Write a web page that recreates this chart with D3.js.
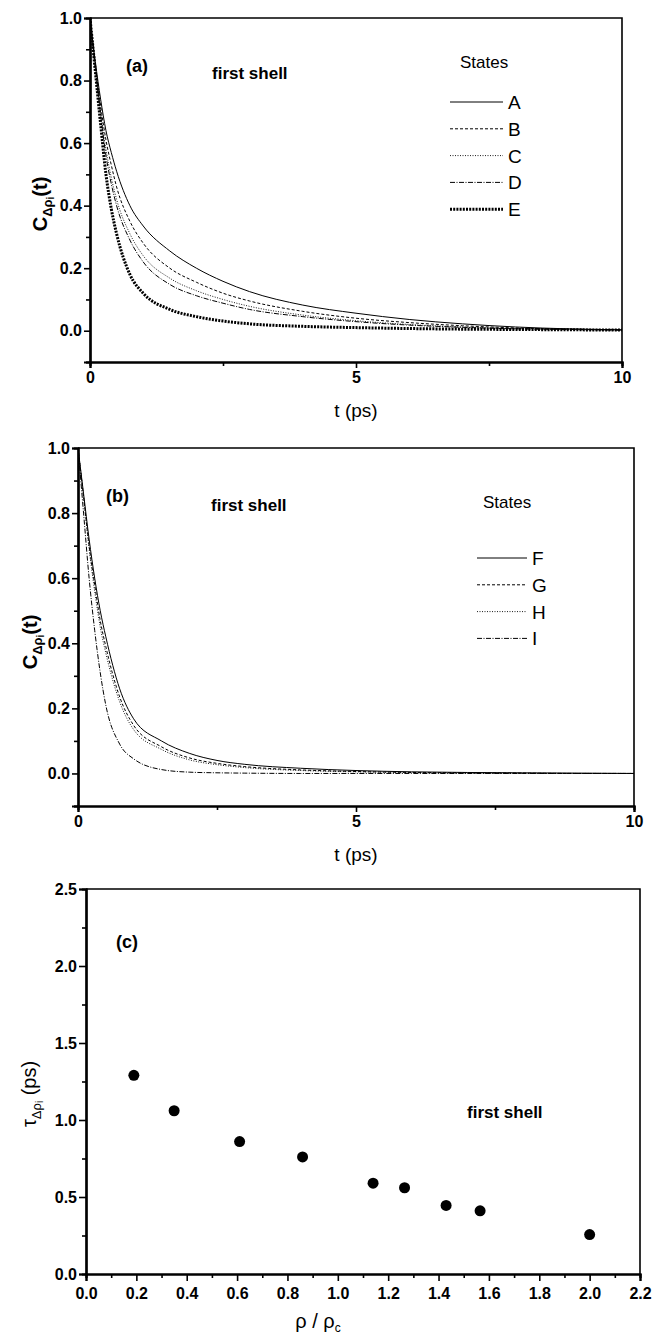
<!DOCTYPE html>
<html>
<head>
<meta charset="utf-8">
<script src="https://cdn.jsdelivr.net/npm/d3@7"></script>
<style>
    body { margin: 0; background: #fff; }
    svg { display: block; font-family: "Liberation Sans", Arial, sans-serif; }
</style>
</head>
<body>
<svg width="652" height="1338"></svg>
<script>
// time grid (ps) shared by all correlation curves
const times = [0, 0.1, 0.2, 0.3, 0.4, 0.5, 0.75, 1, 1.5, 2, 2.5, 3, 4, 5, 6, 7, 8, 9, 10];

// panel (a), states A-E
const statesA = ["A", "B", "C", "D", "E"];
const corrA = [1.0, 0.86, 0.74, 0.64, 0.57, 0.51, 0.40, 0.335, 0.255, 0.20, 0.158, 0.125, 0.082, 0.056, 0.036, 0.022, 0.012, 0.006, 0.003];
const corrB = [1.0, 0.85, 0.72, 0.61, 0.53, 0.46, 0.35, 0.28, 0.20, 0.155, 0.12, 0.095, 0.062, 0.04, 0.026, 0.016, 0.009, 0.005, 0.003];
const corrC = [1.0, 0.84, 0.70, 0.58, 0.49, 0.42, 0.31, 0.24, 0.168, 0.128, 0.10, 0.078, 0.05, 0.032, 0.02, 0.012, 0.007, 0.004, 0.002];
const corrD = [1.0, 0.84, 0.69, 0.56, 0.47, 0.40, 0.29, 0.22, 0.148, 0.112, 0.088, 0.068, 0.045, 0.029, 0.018, 0.011, 0.006, 0.004, 0.002];
const corrE = [1.0, 0.83, 0.66, 0.50, 0.39, 0.31, 0.18, 0.12, 0.068, 0.045, 0.031, 0.022, 0.014, 0.010, 0.007, 0.005, 0.004, 0.003, 0.002];

// panel (b), states F-I
const statesB = ["F", "G", "H", "I"];
const corrF = [1.0, 0.86, 0.72, 0.60, 0.50, 0.42, 0.26, 0.168, 0.10, 0.062, 0.04, 0.028, 0.016, 0.009, 0.005, 0.003, 0.002, 0.001, 0.0];
const corrG = [1.0, 0.85, 0.70, 0.58, 0.47, 0.39, 0.235, 0.148, 0.082, 0.048, 0.031, 0.021, 0.011, 0.006, 0.003, 0.002, 0.001, 0.0, 0.0];
const corrH = [1.0, 0.85, 0.69, 0.56, 0.45, 0.37, 0.22, 0.135, 0.074, 0.042, 0.027, 0.018, 0.009, 0.005, 0.003, 0.001, 0.0, 0.0, 0.0];
const corrI = [1.0, 0.80, 0.60, 0.44, 0.31, 0.21, 0.09, 0.045, 0.012, 0.004, 0.002, 0.001, 0.0, 0.0, 0.0, 0.0, 0.0, 0.0, 0.0];

// panel (c), relaxation time vs reduced density
const density = [0.19, 0.35, 0.61, 0.86, 1.14, 1.265, 1.43, 1.565, 2.0];
const tau = [1.29, 1.06, 0.86, 0.76, 0.59, 0.56, 0.445, 0.41, 0.256];

const xTicksT = [0, 5, 10];
const xMinorT = [2.5, 7.5];
const yTicksC = [0, 0.2, 0.4, 0.6, 0.8, 1.0];
const yMinorC = [-0.1, 0.1, 0.3, 0.5, 0.7, 0.9];
const xTicksRho = d3.range(0, 2.21, 0.2);
const xMinorRho = d3.range(0.1, 2.2, 0.2);
const yTicksTau = [0, 0.5, 1.0, 1.5, 2.0, 2.5];
const yMinorTau = [0.25, 0.75, 1.25, 1.75, 2.25];

// dash styles: solid, dash, dot, dash-dot, thick dot
const styles = [
    { dash: null, w: 1 },
    { dash: "3,2", w: 1 },
    { dash: "1,1.5", w: 0.9 },
    { dash: "5,1.5,1,1.5", w: 1 },
    { dash: "2,1.2", w: 3 }
];

const svg = d3.select("svg");

function frame(g, x, y) {
    const [x0, x1] = x.range();
    const [y0, y1] = y.range();
    g.append("path")
        .attr("d", `M${x0},${y1}H${x1}V${y0}`)
        .attr("fill", "none")
        .attr("stroke", "#000")
        .attr("stroke-width", 1.6);
}

function axes(g, x, y, o) {
    const y0 = y.range()[0], x0 = x.range()[0];
    // minor ticks first, then majors with labels
    g.append("g").attr("transform", `translate(0,${y0})`)
        .call(d3.axisBottom(x).tickValues(o.xMinor).tickSize(o.minorLen).tickFormat(""));
    g.append("g").attr("transform", `translate(0,${y0})`)
        .call(d3.axisBottom(x).tickValues(o.xTicks).tickSize(o.majorLen).tickPadding(o.xPad).tickFormat(o.xFmt));
    g.append("g").attr("transform", `translate(${x0},0)`)
        .call(d3.axisLeft(y).tickValues(o.yMinor).tickSize(o.minorLen).tickFormat(""));
    g.append("g").attr("transform", `translate(${x0},0)`)
        .call(d3.axisLeft(y).tickValues(o.yTicks).tickSize(o.majorLen).tickPadding(2).tickFormat(d3.format(".1f")));

    g.selectAll(".domain").attr("stroke-width", 2.2);
    g.selectAll(".tick line").attr("stroke-width", 1.6);
    g.selectAll(".tick text")
        .attr("font-size", 16)
        .attr("font-weight", "bold")
        .attr("font-family", "'Liberation Sans', Arial, sans-serif")
        .attr("fill", "#000");
}

function ylabelC(g, xPos, yPos) {
    const t = g.append("text")
        .attr("transform", `translate(${xPos},${yPos}) rotate(-90)`)
        .attr("text-anchor", "middle")
        .attr("font-size", 20)
        .attr("font-weight", "bold");
    t.append("tspan").text("C");
    t.append("tspan").attr("font-size", 13).attr("dy", 5).text("Δρ");
    t.append("tspan").attr("font-size", 10).attr("dy", 2).text("i");
    t.append("tspan").attr("dy", -7).text("(t)");
}

function corrPanel(cfg) {
    const x = d3.scaleLinear().domain([0, 10]).range(cfg.xr);
    const y = d3.scaleLinear().domain([-0.1, 1.0]).range(cfg.yr);
    const g = svg.append("g");

    const clipId = "clip" + cfg.tag;
    g.append("clipPath").attr("id", clipId)
        .append("rect")
        .attr("x", cfg.xr[0]).attr("y", cfg.yr[1] - 2)
        .attr("width", cfg.xr[1] - cfg.xr[0]).attr("height", cfg.yr[0] - cfg.yr[1] + 2);

    const line = d3.line()
        .x((d, i) => x(times[i]))
        .y(d => y(d))
        .curve(d3.curveMonotoneX);

    g.append("g").attr("clip-path", `url(#${clipId})`)
        .selectAll("path")
        .data(cfg.series)
        .join("path")
        .attr("d", d => line(d))
        .attr("fill", "none")
        .attr("stroke", "#000")
        .attr("stroke-width", (d, i) => styles[i].w)
        .attr("stroke-dasharray", (d, i) => styles[i].dash);

    frame(g, x, y);
    axes(g, x, y, {
        xTicks: xTicksT, xMinor: xMinorT, yTicks: yTicksC, yMinor: yMinorC,
        majorLen: 6, minorLen: 4, xPad: 4, xFmt: d3.format("d")
    });

    g.append("text").attr("x", (cfg.xr[0] + cfg.xr[1]) / 2).attr("y", cfg.yr[0] + 55)
        .attr("text-anchor", "middle").attr("font-size", 19).text("t (ps)");
    ylabelC(g, cfg.ylabX, cfg.ylabY);

    g.append("text").attr("x", cfg.tagX).attr("y", cfg.tagY)
        .attr("font-size", 18).attr("font-weight", "bold").text(`(${cfg.tag})`);
    g.append("text").attr("x", cfg.shellX).attr("y", cfg.shellY)
        .attr("font-size", 17).attr("font-weight", "bold").text("first shell");
    g.append("text").attr("x", cfg.statesX).attr("y", cfg.statesY)
        .attr("font-size", 17).text("States");

    // legend
    const lg = g.append("g").selectAll("g")
        .data(cfg.names)
        .join("g")
        .attr("transform", (d, i) => `translate(${cfg.legX},${cfg.legY + i * 26.8})`);
    lg.append("line")
        .attr("x1", 0).attr("x2", cfg.legLen)
        .attr("stroke", "#000")
        .attr("stroke-width", (d, i) => styles[i].w)
        .attr("stroke-dasharray", (d, i) => styles[i].dash);
    lg.append("text")
        .attr("x", cfg.legLen + 5).attr("y", 7)
        .attr("font-size", 19)
        .text(d => d);
}

corrPanel({
    tag: "a", xr: [90, 622], yr: [362, 18],
    series: [corrA, corrB, corrC, corrD, corrE], names: statesA,
    ylabX: 47, ylabY: 204, tagX: 126, tagY: 72, shellX: 212, shellY: 79,
    statesX: 460, statesY: 68, legX: 450, legY: 102, legLen: 53
});

corrPanel({
    tag: "b", xr: [78, 634], yr: [806, 448],
    series: [corrF, corrG, corrH, corrI], names: statesB,
    ylabX: 37, ylabY: 642, tagX: 106, tagY: 502, shellX: 211, shellY: 511,
    statesX: 483, statesY: 508, legX: 477, legY: 558, legLen: 50
});

// panel (c)
{
    const x = d3.scaleLinear().domain([0, 2.2]).range([86, 640]);
    const y = d3.scaleLinear().domain([0, 2.5]).range([1274, 889]);
    const g = svg.append("g");

    frame(g, x, y);
    axes(g, x, y, {
        xTicks: xTicksRho, xMinor: xMinorRho, yTicks: yTicksTau, yMinor: yMinorTau,
        majorLen: 7, minorLen: 4, xPad: 7, xFmt: d3.format(".1f")
    });

    g.append("g").selectAll("circle")
        .data(density)
        .join("circle")
        .attr("cx", d => x(d))
        .attr("cy", (d, i) => y(tau[i]))
        .attr("r", 5.5)
        .attr("fill", "#000");

    g.append("text").attr("x", 116).attr("y", 948)
        .attr("font-size", 18).attr("font-weight", "bold").text("(c)");
    g.append("text").attr("x", 467).attr("y", 1118)
        .attr("font-size", 17).attr("font-weight", "bold").text("first shell");

    const yl = g.append("text")
        .attr("transform", "translate(36,1094) rotate(-90)")
        .attr("text-anchor", "middle")
        .attr("font-size", 20);
    yl.append("tspan").text("τ");
    yl.append("tspan").attr("font-size", 13).attr("dy", 5).text("Δρ");
    yl.append("tspan").attr("font-size", 10).attr("dy", 2).text("i");
    yl.append("tspan").attr("dy", -7).text(" (ps)");

    const xl = g.append("text")
        .attr("x", 318).attr("y", 1328)
        .attr("text-anchor", "middle")
        .attr("font-size", 20);
    xl.append("tspan").text("ρ / ρ");
    xl.append("tspan").attr("font-size", 12).attr("dy", 4).text("c");
}
</script>
</body>
</html>
